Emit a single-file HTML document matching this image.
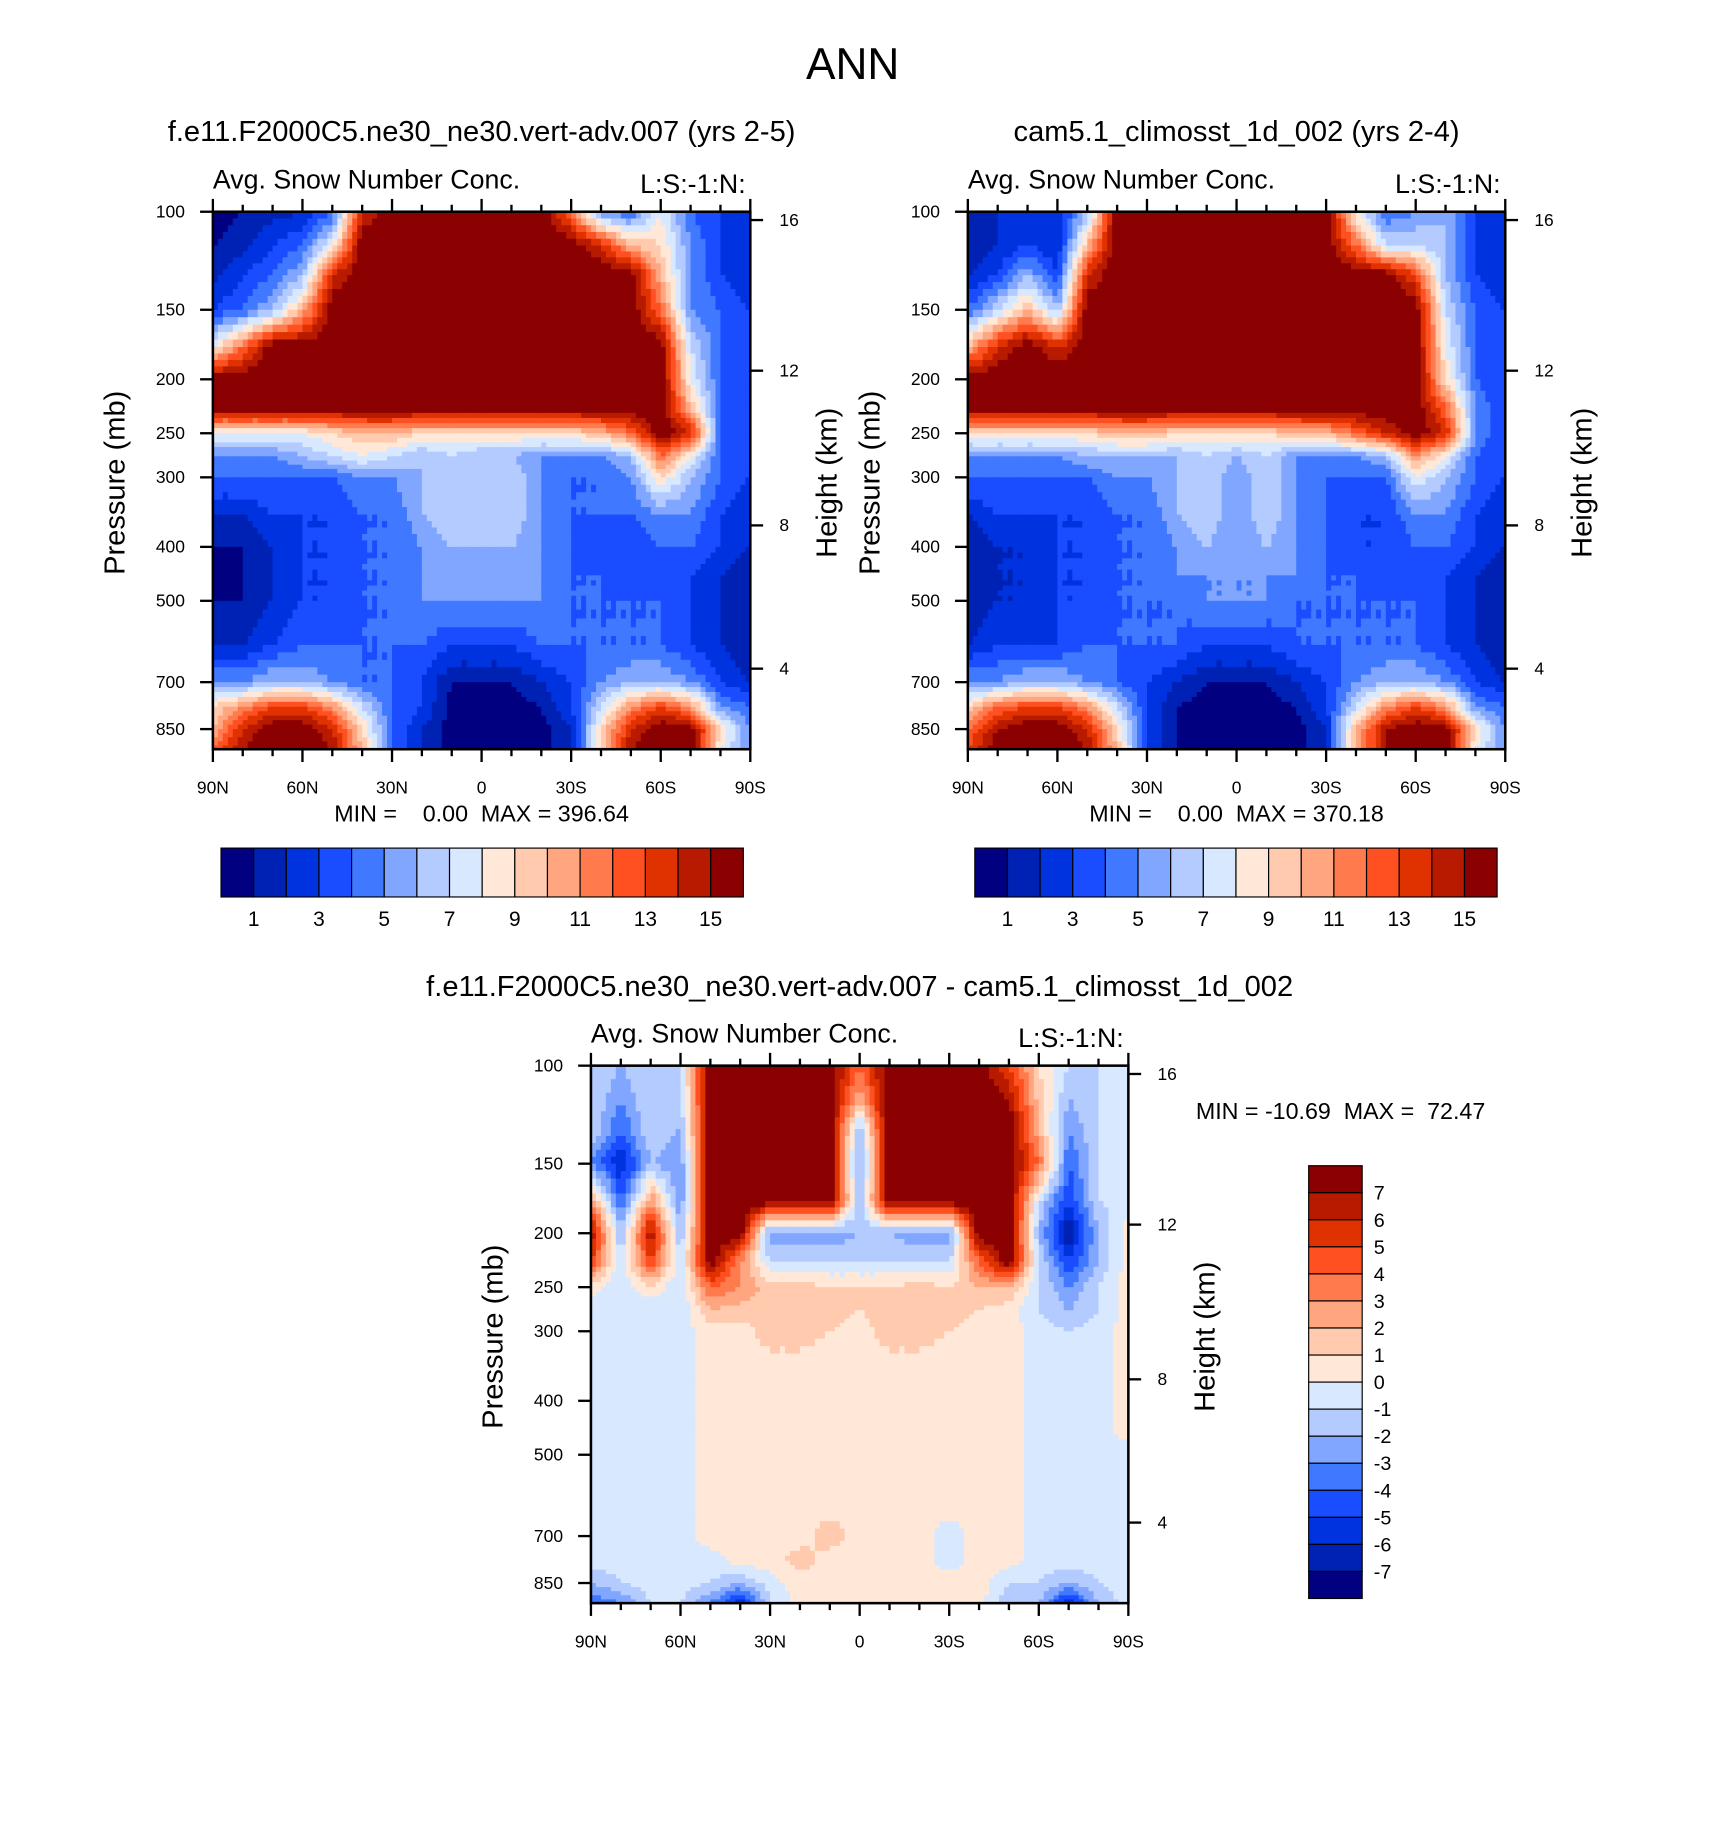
<!DOCTYPE html>
<html><head><meta charset="utf-8">
<style>html,body{margin:0;padding:0;background:#fff}svg{display:block}text{font-family:"Liberation Sans",sans-serif;fill:#000;stroke:none;white-space:pre}</style>
</head><body>
<svg id="fig" width="1710" height="1830" viewBox="0 0 1470 1573" preserveAspectRatio="none" xmlns="http://www.w3.org/2000/svg" xml:space="preserve">
<text x="733" y="68" font-size="38" text-anchor="middle">ANN</text>
<g id="layer"></g>
</svg>
<script>
// ---- chart data ----
const lats = [90,80,70,60,50,40,30,20,10,0,-10,-20,-30,-40,-50,-60,-70,-80,-90];
const levels = [100,115,130,150,175,200,225,250,275,300,350,400,450,500,600,700,775,850,925];
const colors = ["#000080","#0022b4","#0033e0","#1a4dff","#4078ff","#80a6ff","#b3cbff","#d8e8ff","#ffe8d8","#ffcaae","#ffa680","#ff7a4c","#ff5022","#e03200","#b81a00","#8b0000"];
const pTicks = [100,150,200,250,300,400,500,700,850];
const hTicks = [16,12,8,4];
const hTickP = [103.5,193,366,662];
const latTicks = [90,60,30,0,-30,-60,-90];
const latLabels = ["90N","60N","30N","0","30S","60S","90S"];
const cbLabels1 = ["1","3","5","7","9","11","13","15"];
const cbLabels3 = ["7","6","5","4","3","2","1","0","-1","-2","-3","-4","-5","-6","-7"];
const field1 = [
[0.5,1,1.5,2,4,14,16,16,16,16,16,16,12,5,4,8,4,3,2],
[1,1.5,3,4,8,16,16,16,16,16,16,16,16,14,10,9,5,3,2],
[1.5,3,4,6,14,16,16,16,16,16,16,16,16,16,16,10,5,3,2],
[3,4,6,10,16,16,16,16,16,16,16,16,16,16,16,12,5,4,3],
[8,12,16,16,16,16,16,16,16,16,16,16,16,16,16,16,7,4,3],
[16,16,16,16,16,16,16,16,16,16,16,16,16,16,16,16,8,4,3],
[16,16,16,16,16,16,16,16,16,16,16,16,16,16,16,16,10,4,3],
[8,8,8,8,9,10,10,9,9,9,9,9,9,10,12,16,14,4,3],
[5,5,5,6,7,8,7,6,7,6,6,5,5,5,6,12,8,4,3],
[4,4,4,4,4,5,5,6,7,6,7,5,4,4,5,9,6,4,3],
[2,2,3,3,3,4,4,6,7,6,7,5,4,4,4,5,5,3,2],
[1,1,2,3,3,4,4,5,6,6,6,5,4,3,3,4,4,3,2],
[0.5,1,2,3,3,4,4,5,6,5,6,5,4,4,3,4,3,2,1],
[1,1,2,3,3,4,4,5,5,5,5,5,4,4,4,4,3,2,1],
[2,2,3,4,4,4,4,4,3,3,3,4,4,4,4,4,3,2,1],
[5,5,6,6,5,4,4,3,1,1,1,2,3,5,6,6,5,3,2],
[9,11,13,13,11,7,4,3,0.5,0.5,0.5,1,3,7,11,13,11,5,4],
[10,14,16,16,14,9,4,2,0.5,0.5,0.5,0.5,2,9,14,16,16,9,5],
[12,15,16,16,15,10,4,2,0.5,0.5,0.5,0.5,2,9,15,16,16,8,5]];
const field2 = [
[1,2,3,2,6,16,16,16,16,16,16,16,16,8,4,5,6,3,2],
[1,2,3,2,10,16,16,16,16,16,16,16,16,12,7,7,6,3,2],
[2,3,6,3,14,16,16,16,16,16,16,16,16,16,16,13,6,3,2],
[4,7,10,6,16,16,16,16,16,16,16,16,16,16,16,16,7,4,3],
[10,14,16,14,16,16,16,16,16,16,16,16,16,16,16,16,8,4,3],
[16,16,16,16,16,16,16,16,16,16,16,16,16,16,16,16,9,4,3],
[16,16,16,16,16,16,16,16,16,16,16,16,16,16,16,16,12,5,3],
[9,9,9,9,9,10,10,9,9,9,9,10,10,12,14,16,14,5,3],
[5,5,5,5,6,6,6,6,7,6,7,5,5,5,6,11,8,4,3],
[4,4,4,4,4,5,5,6,7,5,7,5,4,4,4,8,6,4,3],
[2,3,3,3,3,4,4,6,7,5,7,5,4,3,3,5,5,3,2],
[1,2,2,3,3,4,4,5,6,5,6,5,4,3,3,4,4,3,2],
[1,2,2,3,3,4,4,5,5,5,5,5,4,4,3,4,3,2,1],
[1,2,2,3,3,4,4,4,5,5,5,4,4,4,4,4,3,2,1],
[2,3,3,3,4,4,4,4,3,3,3,4,4,4,4,4,3,2,1],
[5,5,6,6,5,4,3,2,1,1,1,2,3,5,6,6,5,3,2],
[9,12,13,13,11,7,3,1,0.5,0.5,0.5,1,3,7,11,13,11,5,4],
[12,15,16,16,14,9,3,1,0.5,0.5,0.5,0.5,2,10,15,16,16,9,5],
[13,16,16,16,15,10,3,1,0.5,0.5,0.5,0.5,2,10,15,16,16,8,5]];
const field3 = [
[-1,-2,-1,-1,8,8,8,8,8,4,8,8,8,8,5,1,-1,-1,-0.5],
[-1,-3,-1,-1.5,8,8,8,8,8,2,8,8,8,8,7,1.5,-2,-1,-0.5],
[-1,-4,-1,-2,8,8,8,8,8,-2,8,8,8,8,8,2,-3,-1,-0.5],
[-3,-6,-2,-3,8,8,8,8,8,-3,8,8,8,8,8,4,-4,-1,-0.5],
[3,-4,3,-3,8,8,8,8,8,-2,8,8,8,8,8,-1,-5,-1,-0.5],
[7,-2,7,-2,8,8,-3,-3,-3,-2,-2,-3,-3,8,8,-2,-7,-2,0.5],
[5,-1,5,-1,8,3,-1,-1,-1,-1,-1,-1,-1,4,8,-1,-5,-2,0.5],
[0.5,-1,1,-1,4,3,1.5,1.5,1,1,1,1.5,1,2,2,-1,-3,-1,0.5],
[-0.5,-1,-1,-1,2,1.5,1.5,2,1.5,1,1.5,2,1.5,1,0.5,-1,-2,-1,0.5],
[-0.5,-0.5,-1,-0.5,0.5,0.5,1.5,1.5,1,0.5,1.5,1.5,1,0.5,0.5,-0.5,-1,-0.5,0.5],
[-0.5,-0.5,-0.5,-0.5,0.5,0.5,0.5,0.5,0.5,0.5,0.5,0.5,0.5,0.5,0.5,-0.5,-1,-0.5,0.5],
[-0.5,-0.5,-0.5,-0.5,0.5,0.5,0.5,0.5,0.5,0.5,0.5,0.5,0.5,0.5,0.5,-0.5,-0.5,-0.5,0.5],
[-0.5,-0.5,-0.5,-0.5,0.5,0.5,0.5,0.5,0.5,0.5,0.5,0.5,0.5,0.5,0.5,-0.5,-0.5,-0.5,0.5],
[-0.5,-0.5,-0.5,-0.5,0.5,0.5,0.5,0.5,0.5,0.5,0.5,0.5,0.5,0.5,0.5,-0.5,-0.5,-0.5,-0.5],
[-0.5,-0.5,-0.5,-0.5,0.5,0.5,0.5,0.5,0.5,0.5,0.5,0.5,0.5,0.5,0.5,-0.5,-0.5,-0.5,-0.5],
[-0.5,-0.5,-0.5,-0.5,0.5,0.5,0.5,0.5,1.5,0.5,0.5,0.5,-0.5,0.5,0.5,-0.5,-0.5,-0.5,-0.5],
[-0.5,-0.5,-0.5,-0.5,-0.5,0.5,0.5,1.5,0.5,0.5,0.5,0.5,-0.5,0.5,0.5,-0.5,-0.5,-0.5,-0.5],
[-2,-1,-0.5,-0.5,-1,-2,-0.5,0.5,0.5,0.5,0.5,0.5,0.5,0.5,-1,-1,-2,-1,-0.5],
[-4,-3,-1,-1,-3,-6,-1,0.5,0.5,0.5,0.5,0.5,0.5,0.5,-2,-2,-6,-2,-0.5]];

// ---- rendering ----
const NS = "http://www.w3.org/2000/svg";
const layer = document.getElementById('layer');
const W = 462, H = 462, K = 207.8;
function mk(tag, attrs, parent) {
  const e = document.createElementNS(NS, tag);
  for (const k in attrs) e.setAttribute(k, attrs[k]);
  (parent || layer).appendChild(e);
  return e;
}
function txt(s, x, y, size, anchor, parent, name) {
  const t = mk('text', {x: x, y: y, 'font-size': size, 'text-anchor': anchor || 'start'}, parent);
  t.textContent = s;
  
  
  return t;
}
function xOf(px, lat) { return px + (90 - lat) / 180 * W; }
function yOf(py, p) { return py + K * Math.log(p / 100); }

function panel(px, py, field, idxFn, name) {
  const g = mk('g', {});
  
  
  const SX = 6, SY = 5;
  for (let j = 0; j < levels.length - 1; j++) {
    for (let i = 0; i < lats.length - 1; i++) {
      const x0 = xOf(px, lats[i]), x1 = xOf(px, lats[i + 1]);
      const y0 = yOf(py, levels[j]), y1 = yOf(py, levels[j + 1]);
      const a = field[j][i], b = field[j][i + 1], c = field[j + 1][i], d = field[j + 1][i + 1];
      for (let sy = 0; sy < SY; sy++) {
        for (let sx = 0; sx < SX; sx++) {
          const u = (sx + 0.5) / SX, v = (sy + 0.5) / SY;
          const val = a * (1 - u) * (1 - v) + b * u * (1 - v) + c * (1 - u) * v + d * u * v;
          const r = mk('rect', {x: (x0 + (x1 - x0) * sx / SX).toFixed(2), y: (y0 + (y1 - y0) * sy / SY).toFixed(2),
            width: ((x1 - x0) / SX + 0.6).toFixed(2), height: ((y1 - y0) / SY + 0.6).toFixed(2), fill: colors[idxFn(val)]}, g);
          
          
        }
      }
    }
  }
  const fr = mk('rect', {x: px, y: py, width: W, height: H, fill: 'none', stroke: '#000', 'stroke-width': 2.2}, g);
  
  
  const ax = mk('g', {});
  
  
  const L = (x1, y1, x2, y2) => mk('line', {x1: x1, y1: y1, x2: x2, y2: y2, stroke: '#000', 'stroke-width': 2}, ax);
  pTicks.forEach(p => {
    const y = yOf(py, p);
    L(px - 11, y, px, y);
    txt(String(p), px - 24, y + 5, 15, 'end', ax, 'pressure-tick-label');
  });
  hTicks.forEach((h, k) => {
    const y = yOf(py, hTickP[k]);
    L(px + W, y, px + W + 11, y);
    txt(String(h), px + W + 25, y + 5, 15, 'start', ax, 'height-tick-label');
  });
  for (let lat = 90; lat >= -90; lat -= 10) {
    const x = xOf(px, lat), major = lat % 30 === 0;
    L(x, py, x, py - (major ? 11 : 6));
    L(x, py + H, x, py + H + (major ? 11 : 6));
  }
  latTicks.forEach((lat, k) => txt(latLabels[k], xOf(px, lat), py + H + 38, 15, 'middle', ax, 'lat-tick-label'));
  const yt = txt('Pressure (mb)', 0, 0, 25, 'middle', ax, 'y-axis-title');
  yt.setAttribute('transform', `translate(${px - 76},${py + 233}) rotate(-90)`);
  const ht = txt('Height (km)', 0, 0, 25, 'middle', ax, 'right-axis-title');
  ht.setAttribute('transform', `translate(${px + W + 74},${py + 233}) rotate(-90)`);
  txt('Avg. Snow Number Conc.', px, py - 20, 23, 'start', ax, 'plot-subtitle');
  txt('L:S:-1:N:', px + W - 4, py - 16, 23, 'end', ax, 'plot-subtitle-right');
}
const idx1 = v => Math.max(0, Math.min(15, Math.floor(v)));
const idx3 = v => Math.max(0, Math.min(15, Math.floor(v) + 8));

function hbar(x, y, name) {
  const g = mk('g', {});
  
  
  const bw = 449 / 16;
  colors.forEach((c, k) => {
    const r = mk('rect', {x: x + k * bw, y: y, width: bw, height: 42, fill: c, stroke: '#000', 'stroke-width': 1}, g);
    
    
  });
  cbLabels1.forEach((s, k) => txt(s, x + (2 * k + 1) * bw, y + 67, 18, 'middle', g, 'colorbar-label'));
}
function vbar(x, y) {
  const g = mk('g', {});
  
  
  const bh = 372 / 16;
  colors.slice().reverse().forEach((c, k) => {
    const r = mk('rect', {x: x, y: y + k * bh, width: 46, height: bh, fill: c, stroke: '#000', 'stroke-width': 1}, g);
    
    
  });
  cbLabels3.forEach((s, k) => txt(s, x + 56, y + (k + 1) * bh + 6, 17, 'start', g, 'colorbar-label'));
}

txt('f.e11.F2000C5.ne30_ne30.vert-adv.007 (yrs 2-5)', 414, 121, 25, 'middle', null, 'panel1-title');
txt('cam5.1_climosst_1d_002 (yrs 2-4)', 1063, 121, 25, 'middle', null, 'panel2-title');
txt('f.e11.F2000C5.ne30_ne30.vert-adv.007 - cam5.1_climosst_1d_002', 739, 856, 25, 'middle', null, 'panel3-title');
panel(183, 182, field1, idx1, 'panel-test');
panel(832, 182, field2, idx1, 'panel-control');
panel(508, 916, field3, idx3, 'panel-diff');
txt('MIN =    0.00  MAX = 396.64', 414, 706, 20, 'middle', null, 'panel1-minmax');
txt('MIN =    0.00  MAX = 370.18', 1063, 706, 20, 'middle', null, 'panel2-minmax');
txt('MIN = -10.69  MAX =  72.47', 1028, 962, 20, 'start', null, 'panel3-minmax');
hbar(190, 729, 'panel1-colorbar');
hbar(838, 729, 'panel2-colorbar');
vbar(1125, 1002);
</script>
</body></html>
